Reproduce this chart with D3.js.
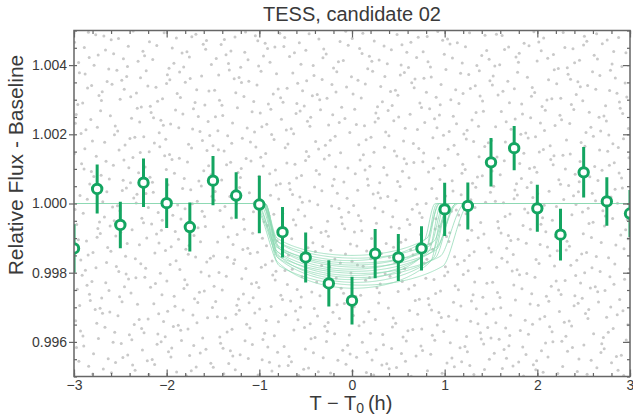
<html>
  <head>
    <meta charset="utf-8">
    <title>TESS candidate 02</title>
    <script src="https://d3js.org/d3.v7.min.js"></script>
    <style>
      body { margin: 0; background: #fff; }
      text { font-family: "Liberation Sans", Arial, sans-serif; fill: #3a3a3a; }
    </style>
  </head>
  <body>
    <svg width="633" height="418"></svg>

    <script type="text/javascript">
      // binned points (T - T0 in hours, relative flux, 1-sigma error)
      var binTime = [-3, -2.75, -2.5, -2.25, -2, -1.75, -1.5, -1.25, -1, -0.75, -0.5, -0.25, 0,
                     0.25, 0.5, 0.75, 1, 1.25, 1.5, 1.75, 2, 2.25, 2.5, 2.75, 3];
      var binFlux = [0.99870, 1.00042, 0.99938, 1.00060, 1.00001, 0.99932, 1.00066, 1.00023, 0.99997,
                     0.99917, 0.99844, 0.99769, 0.99719, 0.99855, 0.99844, 0.99870, 0.99983, 0.99993,
                     1.00119, 1.00160, 0.99986, 0.99910, 1.00090, 1.00006, 0.99971];
      var binErr  = [0.00070, 0.00071, 0.00067, 0.00070, 0.00072, 0.00071, 0.00071, 0.00067, 0.00083,
                     0.00073, 0.00072, 0.00067, 0.00069, 0.00071, 0.00068, 0.00064, 0.00077, 0.00068,
                     0.00070, 0.00064, 0.00068, 0.00075, 0.00073, 0.00070, 0.00068];

      // posterior model draws: depth, mid time, half duration, ingress time (h)
      var modelDepth  = [0.00150, 0.00158, 0.00165, 0.00172, 0.00178, 0.00184, 0.00190, 0.00196,
                         0.00202, 0.00208, 0.00214, 0.00220, 0.00228, 0.00236, 0.00245];
      var modelMid    = [0.00, 0.04, -0.02, 0.05, 0.02, 0.07, 0.00, 0.03, 0.08, 0.01, 0.05, -0.01, 0.04, 0.10, 0.02];
      var modelHalf   = [0.95, 1.02, 0.92, 1.10, 0.98, 1.06, 0.94, 1.03, 1.15, 0.96, 1.08, 0.93, 1.01, 1.18, 0.99];
      var modelIngress = [0.14, 0.18, 0.12, 0.24, 0.15, 0.22, 0.13, 0.19, 0.28, 0.14, 0.23, 0.13, 0.17, 0.30, 0.16];

      var xTicks = [-3, -2, -1, 0, 1, 2, 3];
      var yTicks = [0.996, 0.998, 1.000, 1.002, 1.004];

      var nRaw = 1400;   // unbinned 2-min points, shown only as a faint background

      var margin = {top: 30.5, right: 3, bottom: 41.5, left: 74};
      var width = 633 - margin.left - margin.right;
      var height = 418 - margin.top - margin.bottom;

      var green = "#14a561";

      var xScale = d3.scaleLinear().domain([-3, 3]).range([0, width]);
      var yScale = d3.scaleLinear().domain([0.995, 1.005]).range([height, 0]);

      var svg = d3.select("svg");
      var g = svg.append("g")
        .attr("transform", "translate(" + margin.left + "," + margin.top + ")");

      g.append("clipPath").attr("id", "plotClip")
        .append("rect").attr("width", width).attr("height", height);

      var plot = g.append("g").attr("clip-path", "url(#plotClip)");

      // raw points: evenly spread filler (individual values are not readable)
      function halton(i, b) {
        var f = 1, r = 0;
        while (i > 0) { f = f / b; r = r + f * (i % b); i = Math.floor(i / b); }
        return r;
      }
      var raw = d3.range(1, nRaw + 1).map(function(i) {
        return [-3 + 6 * halton(i, 2), 0.995 + 0.01 * halton(i, 3)];
      });
      plot.selectAll("circle.raw")
        .data(raw)
        .enter()
        .append("circle")
        .attr("class", "raw")
        .attr("cx", d => xScale(d[0]))
        .attr("cy", d => yScale(d[1]))
        .attr("r", 1.5)
        .attr("fill", "#c9c9c9");

      // transit model draws
      function modelFlux(t, k) {
        var u = Math.abs(t - modelMid[k]);
        var h = modelHalf[k];
        if (u >= h) return 1;
        var p = Math.min(1, (h - u) / modelIngress[k]);
        p = p * p * (3 - 2 * p);
        var z = u / h;
        var limb = 1 - 0.7 * (1 - Math.sqrt(1 - z * z));
        return 1 - modelDepth[k] * p * limb;
      }
      var tGrid = d3.range(-3, 3.0001, 0.01);
      var line = d3.line()
        .x(d => xScale(d[0]))
        .y(d => yScale(d[1]));

      plot.selectAll("path.model")
        .data(d3.range(modelDepth.length))
        .enter()
        .append("path")
        .attr("class", "model")
        .attr("d", k => line(tGrid.map(t => [t, modelFlux(t, k)])))
        .attr("fill", "none")
        .attr("stroke", "#8fdab4")
        .attr("stroke-opacity", 0.75)
        .attr("stroke-width", 1);

      // binned points with error bars
      var bins = binTime.map((t, i) => [t, binFlux[i], binErr[i]]);

      plot.selectAll("line.err")
        .data(bins)
        .enter()
        .append("line")
        .attr("class", "err")
        .attr("x1", d => xScale(d[0]))
        .attr("x2", d => xScale(d[0]))
        .attr("y1", d => yScale(d[1] - d[2]))
        .attr("y2", d => yScale(d[1] + d[2]))
        .attr("stroke", green)
        .attr("stroke-width", 3);

      plot.selectAll("circle.bin")
        .data(bins)
        .enter()
        .append("circle")
        .attr("class", "bin")
        .attr("cx", d => xScale(d[0]))
        .attr("cy", d => yScale(d[1]))
        .attr("r", 4.7)
        .attr("fill", "#fff")
        .attr("stroke", green)
        .attr("stroke-width", 3);

      // axes
      var xMinor = d3.range(-3, 3.001, 0.2);
      var yMinor = d3.range(0.995, 1.00501, 0.0005);

      function styleAxis(sel) {
        sel.select(".domain").remove();
        sel.selectAll("line").attr("stroke", "#666").attr("stroke-width", 1.2);
        sel.selectAll("text").attr("fill", "#3a3a3a")
          .style("font-family", "'Liberation Sans', Arial, sans-serif");
      }

      g.append("g").attr("transform", "translate(0," + height + ")")
        .call(d3.axisBottom(xScale).tickValues(xMinor).tickSize(-3.5).tickFormat(""))
        .call(styleAxis);
      g.append("g").attr("transform", "translate(0," + height + ")")
        .call(d3.axisBottom(xScale).tickValues(xTicks).tickSize(-7).tickPadding(4).tickFormat(d3.format("d")))
        .call(styleAxis)
        .selectAll("text").style("font-size", "14px");

      g.append("g")
        .call(d3.axisTop(xScale).tickValues(xMinor).tickSize(-3.5).tickFormat(""))
        .call(styleAxis);
      g.append("g")
        .call(d3.axisTop(xScale).tickValues(xTicks).tickSize(-7).tickFormat(""))
        .call(styleAxis);

      g.append("g")
        .call(d3.axisLeft(yScale).tickValues(yMinor).tickSize(-3).tickFormat(""))
        .call(styleAxis);
      g.append("g")
        .call(d3.axisLeft(yScale).tickValues(yTicks).tickSize(5).tickPadding(2).tickFormat(d3.format(".3f")))
        .call(styleAxis)
        .selectAll("text").style("font-size", "14px");

      g.append("g").attr("transform", "translate(" + width + ",0)")
        .call(d3.axisRight(yScale).tickValues(yMinor).tickSize(-3).tickFormat(""))
        .call(styleAxis);
      g.append("g").attr("transform", "translate(" + width + ",0)")
        .call(d3.axisRight(yScale).tickValues(yTicks).tickSize(-7).tickFormat(""))
        .call(styleAxis);

      g.append("rect")
        .attr("width", width)
        .attr("height", height)
        .attr("fill", "none")
        .attr("stroke", "#666")
        .attr("stroke-width", 1.5);

      // titles
      svg.append("text")
        .attr("x", margin.left + width / 2)
        .attr("y", 21)
        .attr("text-anchor", "middle")
        .style("font-size", "20px")
        .text("TESS, candidate 02");

      svg.append("text")
        .attr("transform", "translate(23,165) rotate(-90)")
        .attr("text-anchor", "middle")
        .style("font-size", "21px")
        .text("Relative Flux - Baseline");

      var xl = svg.append("text")
        .attr("x", 351)
        .attr("y", 410)
        .attr("text-anchor", "middle")
        .style("font-size", "20px");
      xl.append("tspan").text("T \u2212 T");
      xl.append("tspan").attr("dy", 3).style("font-size", "14px").text("0");
      xl.append("tspan").attr("dy", -3).attr("dx", 4).text("(h)");
    </script>
  </body>
</html>
